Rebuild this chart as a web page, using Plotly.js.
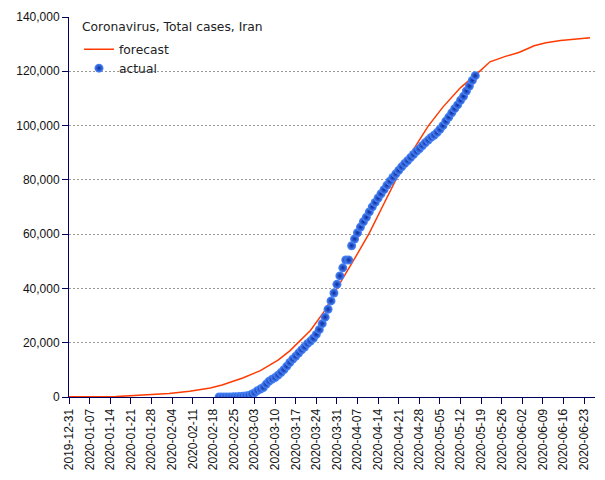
<!DOCTYPE html>
<html>
<head>
<meta charset="utf-8">
<script src="https://cdn.plot.ly/plotly-3.0.1.min.js"></script>
<style>
  html, body { margin: 0; padding: 0; background: #fff; }
  #chart { width: 605px; height: 480px; }
</style>
</head>
<body>
<div id="chart"></div>
<script>
// forecast curve
var forecastDates = [
    '2019-12-31', '2020-01-16', '2020-01-25', '2020-02-03', '2020-02-10',
    '2020-02-17', '2020-02-21', '2020-02-28', '2020-03-05', '2020-03-11',
    '2020-03-15', '2020-03-19', '2020-03-22', '2020-03-27', '2020-03-31',
    '2020-04-07', '2020-04-11', '2020-04-16', '2020-04-20', '2020-04-25',
    '2020-05-01', '2020-05-06', '2020-05-12', '2020-05-18', '2020-05-22',
    '2020-05-27', '2020-06-01', '2020-06-06', '2020-06-10', '2020-06-15',
    '2020-06-21', '2020-06-25'
];
var forecastCases = [
    100, 150, 700, 1300, 2100,
    3300, 4400, 7000, 9700, 13600,
    17000, 21300, 24500, 32000, 40000,
    52800, 60400, 71300, 80000, 89500,
    99800, 106800, 114000, 119500, 123500,
    125400, 127000, 129400, 130500, 131300,
    131900, 132400
];

// actual total cases, one value per day from actualStart
var actualStart = '2020-02-20';
var actualCases = [
    2, 5, 18, 28, 43, 61, 95, 139, 245, 388,
    593, 978, 1501, 2336, 2922, 3513, 4747, 5823, 6566, 7161,
    8042, 9000, 10075, 11364, 12729, 13938, 14991, 16169, 17361, 18407,
    19644, 20610, 21638, 23049, 24811, 27017, 29406, 32332, 35408, 38309,
    41495,
    44605, 47593, 50468, 50468, 55743, 58226, 60500, 62589, 64586, 66220,
    68192, 70029, 71686, 73303, 74877, 76389, 77995, 79494, 80868, 82211,
    83505, 84802, 85996, 87026, 88194, 89328, 90481, 91472, 92584, 93657,
    94640, 95646, 96448, 97424, 98647, 99970, 101650, 103135, 104691, 106220,
    107603, 109286, 110767, 112725, 114533, 116635, 118392
];

var chartTitle = 'Coronavirus, Total cases, Iran';

//daily date strings for the actual series
function dailyDates(start, count){
    var out = new Array(count);
    var t = Date.parse(start + 'T00:00:00Z');
    for (var i = 0; i < count; i++){
        out[i] = new Date(t + i * 86400000).toISOString().slice(0, 10);
    }
    return out;
}
var actualDates = dailyDates(actualStart, actualCases.length);

var tickFont = {family: 'Liberation Sans, Arial, sans-serif', size: 12, color: '#111'};
var legendFont = {family: 'DejaVu Sans, Verdana, sans-serif', size: 12.3, color: '#222'};
var navy = '#00005e';

var data = [{
    name: 'forecast',
    x: forecastDates,
    y: forecastCases,
    type: 'scatter',
    mode: 'lines',
    line: {color: '#ff3a00', width: 1.5},
    hoverinfo: 'skip'
}, {
    name: 'actual',
    x: actualDates,
    y: actualCases,
    type: 'scatter',
    mode: 'markers',
    marker: {
        size: 9,
        color: '#4d8bff',
        gradient: {type: 'radial', color: '#0a2a9c'},
        line: {width: 0}
    },
    hoverinfo: 'skip'
}];

var layout = {
    width: 605,
    height: 480,
    margin: {l: 69, r: 10, t: 17, b: 83},
    paper_bgcolor: '#fff',
    plot_bgcolor: '#fff',
    showlegend: true,
    legend: {
        x: 0.019, xanchor: 'left',
        y: 0.9535, yanchor: 'top',
        bgcolor: 'rgba(0,0,0,0)',
        borderwidth: 0,
        font: legendFont,
        itemwidth: 30,
        tracegroupgap: 0
    },
    annotations: [{
        text: chartTitle,
        xref: 'paper', yref: 'paper',
        x: 0.021, xanchor: 'left',
        y: 0.9735, yanchor: 'middle',
        showarrow: false,
        font: legendFont
    }],
    xaxis: {
        type: 'date',
        range: ['2019-12-31', '2020-06-26 16:00'],
        tick0: '2019-12-31',
        dtick: 7 * 86400000,
        tickformat: '%Y-%m-%d',
        tickangle: -90,
        tickfont: tickFont,
        ticks: 'outside',
        ticklen: 6,
        tickcolor: navy,
        showline: true,
        linecolor: navy,
        linewidth: 1,
        showgrid: false,
        zeroline: false,
        fixedrange: true
    },
    yaxis: {
        range: [0, 140000],
        dtick: 20000,
        tickformat: ',d',
        tickfont: tickFont,
        ticks: 'outside',
        ticklen: 6,
        tickcolor: navy,
        showline: true,
        linecolor: navy,
        linewidth: 1,
        showgrid: true,
        gridcolor: '#9a9a9a',
        griddash: '2px,2px',
        gridwidth: 1,
        zeroline: false,
        fixedrange: true
    }
};

Plotly.newPlot('chart', data, layout, {staticPlot: true, displayModeBar: false});
</script>
</body>
</html>
